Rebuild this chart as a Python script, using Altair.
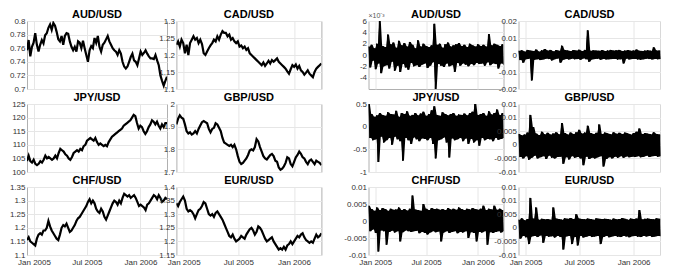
import altair as alt
import numpy as np
import pandas as pd

START = (2004, 12, 8)
END = (2006, 4, 2)

# ---- price levels ----
aud_level = [0.757,0.772,0.748,0.762,0.768,0.782,0.765,0.755,0.765,0.772,0.767,0.779,0.782,0.790,0.795,0.787,0.797,0.793,0.784,0.773,0.770,0.778,0.765,0.778,0.782,0.781,0.770,0.762,0.757,0.762,0.755,0.770,0.768,0.760,0.771,0.760,0.750,0.740,0.757,0.763,0.760,0.775,0.768,0.778,0.762,0.755,0.765,0.768,0.773,0.778,0.770,0.765,0.760,0.757,0.755,0.750,0.757,0.752,0.740,0.733,0.730,0.733,0.740,0.747,0.752,0.742,0.740,0.735,0.745,0.755,0.750,0.753,0.757,0.752,0.748,0.745,0.745,0.744,0.750,0.742,0.735,0.720,0.712,0.705,0.712,0.718]
cad_level = [1.230,1.240,1.225,1.245,1.235,1.205,1.230,1.200,1.235,1.245,1.255,1.245,1.250,1.235,1.245,1.232,1.205,1.200,1.210,1.220,1.228,1.235,1.245,1.240,1.255,1.245,1.260,1.270,1.265,1.265,1.255,1.260,1.245,1.250,1.240,1.235,1.240,1.225,1.228,1.220,1.225,1.215,1.220,1.205,1.200,1.195,1.190,1.185,1.180,1.175,1.170,1.178,1.168,1.175,1.183,1.175,1.185,1.180,1.185,1.190,1.180,1.175,1.170,1.165,1.160,1.152,1.145,1.158,1.170,1.165,1.172,1.160,1.168,1.155,1.150,1.142,1.148,1.155,1.145,1.140,1.135,1.150,1.160,1.165,1.170,1.175]
jpy_level = [104,106,104,103.5,104.5,103,102.5,103,104,103.5,104.5,106,105,105.5,105,104.5,105,106,105,107,108.5,108,107.5,106.5,106,105,104.5,105.5,107,107.5,108,107.5,108.5,108,109.5,110,111.5,112,112.5,112,111.5,112.5,111,110,110.5,110,109.5,110,109.5,111,112,113,113.5,114,114.5,115,115.5,116,117,117.5,118,118.5,119,120,121,120.5,118,116,117,116.5,115,114,115,116.5,117.5,119,118.5,117.5,118.5,117,116,117.5,116.5,118,118]
gbp_level = [1.910,1.935,1.950,1.940,1.935,1.910,1.880,1.870,1.875,1.865,1.870,1.880,1.870,1.890,1.905,1.920,1.925,1.920,1.915,1.890,1.875,1.890,1.895,1.915,1.910,1.895,1.880,1.850,1.830,1.825,1.820,1.815,1.820,1.810,1.820,1.800,1.770,1.745,1.735,1.740,1.750,1.760,1.775,1.795,1.800,1.795,1.810,1.845,1.835,1.810,1.790,1.770,1.760,1.755,1.765,1.775,1.780,1.770,1.750,1.745,1.720,1.710,1.715,1.725,1.740,1.765,1.760,1.735,1.725,1.745,1.765,1.775,1.790,1.780,1.765,1.760,1.745,1.735,1.750,1.755,1.745,1.735,1.750,1.745,1.740,1.730]
chf_level = [1.155,1.165,1.150,1.145,1.140,1.135,1.160,1.175,1.180,1.175,1.190,1.190,1.200,1.225,1.205,1.190,1.180,1.170,1.160,1.155,1.175,1.200,1.210,1.205,1.215,1.200,1.185,1.190,1.200,1.210,1.225,1.235,1.240,1.250,1.260,1.270,1.280,1.295,1.305,1.290,1.300,1.290,1.270,1.260,1.255,1.270,1.260,1.240,1.230,1.245,1.260,1.275,1.290,1.300,1.295,1.285,1.300,1.290,1.310,1.325,1.320,1.315,1.320,1.310,1.315,1.320,1.310,1.295,1.280,1.285,1.280,1.275,1.265,1.285,1.290,1.300,1.310,1.320,1.315,1.305,1.320,1.310,1.295,1.300,1.310,1.305]
eur_level = [1.340,1.330,1.345,1.355,1.365,1.350,1.320,1.310,1.315,1.310,1.300,1.285,1.300,1.315,1.320,1.330,1.345,1.340,1.320,1.300,1.295,1.300,1.290,1.305,1.310,1.300,1.290,1.280,1.265,1.250,1.235,1.220,1.215,1.225,1.210,1.200,1.205,1.210,1.220,1.215,1.210,1.225,1.235,1.245,1.250,1.240,1.225,1.235,1.255,1.250,1.240,1.225,1.210,1.200,1.205,1.210,1.215,1.200,1.190,1.180,1.170,1.175,1.170,1.180,1.170,1.185,1.190,1.200,1.190,1.200,1.210,1.220,1.215,1.225,1.230,1.215,1.205,1.200,1.195,1.200,1.195,1.210,1.225,1.215,1.220,1.230]

# ---- returns (in units of 1e-3) ----
aud_ret = [1.5,-2.2,1.8,-1.0,1.2,-2.5,2.0,-1.5,6.1,-3.2, 1.6,-2.0,1.4,-1.8,3.6,-2.4,1.9,-1.2,2.2,-2.8, 1.3,-1.9,2.5,-3.0,1.7,-1.6,2.1,-2.2,1.5,-2.6, 2.3,-1.4,1.8,-2.0,1.2,-1.8,2.6,-2.1,1.5,-1.7, 2.0,-1.5,1.6,-2.3,1.4,-1.9,1.7,-1.3,5.5,-6.0, 1.8,-1.6,2.0,-1.9,1.3,-2.1,1.9,-1.5,2.2,-2.0, 1.5,-1.8,1.7,-3.0,1.9,-1.4,2.1,-1.9,1.6,-1.5, 1.8,-1.7,1.4,-2.0,2.0,-1.6,1.7,-1.8,1.5,-1.4, 1.9,-1.6,1.6,-1.5,1.8,-1.9,1.5,-1.3,3.7,-1.8, 1.7,-1.5,2.0,-1.6,1.8,-2.4,1.6,-1.5,1.9,-1.7]
cad_ret = [2.5,-3.0,2.8,-4.5,2.0,-2.5,3.0,-2.2,2.6,-15.0, 2.4,-2.8,3.2,-2.5,2.0,-3.0,2.8,-2.6,3.5,-2.2, 2.6,-2.4,3.0,-3.2,2.2,-2.5,2.9,-2.1,2.5,-4.5, 5.5,-2.8,3.0,-2.4,2.7,-2.6,2.3,-2.2,2.9,-2.5, 2.6,-2.4,3.1,-2.8,2.4,-2.0,3.0,-2.5,14.5,-4.0, 2.5,-2.6,2.8,-2.4,2.6,-2.2,2.5,-2.8,2.9,-2.3, 2.4,-2.6,2.7,-2.5,3.0,-2.4,2.6,-2.3,2.8,-2.7, 3.0,-2.5,2.4,-5.0,2.6,-2.2,2.9,-2.6,2.5,-2.4, 2.7,-2.3,3.2,-2.6,2.5,-2.8,2.4,-2.5,2.6,-2.2, 2.8,-2.4,2.5,-2.6,4.5,-2.3,2.7,-2.5,2.6,-2.4]
jpy_ret = [500,-250,280,-300,220,-280,250,-780,300,-220, 260,-350,240,-300,320,-250,280,-400,270,-220, 350,-280,220,-320,300,-750,280,-250,340,-300, 240,-380,260,-240,300,-280,250,-320,290,-260, 330,-270,240,-300,280,-250,360,-380,450,-700, 260,-300,240,-280,320,-240,280,-350,250,-680, 280,-260,300,-300,240,-280,270,-250,260,-320, 290,-260,250,-380,300,-270,330,-350,520,-300, 260,-420,280,-250,300,-300,240,-270,340,-280, 270,-320,300,-250,380,-290,260,-270,300,-250]
gbp_ret = [4.0,-4.5,3.5,-5.0,3.8,-4.2,4.5,-5.5,11.0,-4.8, 6.5,-4.0,4.2,-5.0,3.6,-4.6,4.8,-4.2,3.9,-5.2, 4.4,-4.0,3.8,-4.8,4.2,-5.0,4.6,-4.5,3.9,-4.4, 8.0,-7.0,4.3,-4.6,3.8,-5.4,4.5,-4.2,4.0,-4.8, 4.6,-4.5,5.5,-5.0,4.2,-7.5,4.5,-4.4,7.0,-5.2, 4.3,-4.8,4.0,-5.0,4.4,-4.6,7.5,-4.2,4.0,-8.0, 4.5,-5.2,4.2,-4.6,3.9,-5.0,4.6,-4.4,4.1,-4.8, 4.4,-4.2,4.0,-4.8,4.5,-4.3,4.2,-4.6,3.8,-4.4, 4.3,-4.5,4.8,-4.2,6.0,-4.6,4.0,-4.4,4.3,-4.0, 4.1,-4.5,3.9,-4.2,4.6,-4.1,4.0,-4.4,3.8,-4.2]
chf_ret = [4.5,-3.0,3.5,-2.5,3.0,-3.5,4.0,-9.0,3.2,-2.8, 3.8,-3.0,3.5,-7.0,3.0,-3.2,3.6,-2.9,3.3,-3.4, 3.4,-3.0,4.0,-6.0,3.2,-3.3,3.5,-2.8,3.1,-3.0, 3.6,-3.2,7.5,-3.0,3.4,-2.9,3.2,-3.6,3.0,-3.2, 5.0,-3.5,3.6,-4.0,3.2,-3.4,3.8,-3.0,3.5,-3.3, 3.6,-3.1,3.3,-6.0,3.5,-3.4,3.2,-3.0,3.8,-3.5, 3.4,-3.2,3.6,-3.0,3.3,-3.6,4.0,-3.2,3.5,-3.4, 3.2,-3.0,3.6,-5.0,3.4,-3.3,3.8,-3.5,3.5,-6.0, 3.3,-3.2,3.6,-3.4,4.5,-3.0,3.2,-7.0,3.6,-3.3, 3.4,-3.5,4.5,-3.2,3.3,-3.0,3.6,-3.4,3.2,-3.0]
eur_ret = [3.0,-4.0,3.5,-3.0,2.8,-3.5,3.2,-6.0,11.0,-3.2, 3.4,-3.0,7.5,-3.4,3.0,-2.8,3.3,-5.5,3.1,-3.0, 3.2,-3.3,3.0,-3.1,7.5,-3.6,3.4,-3.0,3.2,-3.4, 3.0,-8.0,3.5,-3.2,3.3,-3.0,3.6,-6.0,3.2,-3.4, 5.0,-6.5,3.4,-3.0,3.2,-3.6,3.1,-3.3,3.4,-3.0, 3.2,-3.4,3.0,-3.2,3.5,-3.0,3.3,-6.0,3.2,-3.4, 3.3,-3.0,3.2,-3.5,3.0,-3.2,3.4,-3.0,3.1,-3.3, 3.2,-3.4,3.6,-3.0,3.3,-3.2,3.0,-3.5,3.4,-3.1, 3.2,-3.0,3.4,-3.3,6.5,-3.4,3.1,-3.0,3.3,-3.2, 3.4,-3.0,3.2,-3.4,3.1,-3.2,3.5,-3.0,3.3,-3.1]

FONT = "Liberation Sans"
X_TICKS = [alt.DateTime(year=2005, month=1, date=1),
           alt.DateTime(year=2005, month=7, date=1),
           alt.DateTime(year=2006, month=1, date=1)]
X_DOMAIN = [alt.DateTime(year=START[0], month=START[1], date=START[2]),
            alt.DateTime(year=END[0], month=END[1], date=END[2])]
MINUS = "replace(datum.label, '\u2212', '-')"


def panel(values, scale, title, domain, ticks, bottom, width, height=68,
          lw=2.2, label_expr=MINUS, exponent=None, returns=False):
    dates = pd.date_range(pd.Timestamp(*START), pd.Timestamp(*END), periods=len(values))
    v = pd.Series([val * scale for val in values])
    prev = v.shift(1).fillna(v)
    df = pd.DataFrame({"date": dates, "v": v,
                       "lo": np.minimum(v, prev), "hi": np.maximum(v, prev)})
    x = alt.X("date:T", title=None,
              scale=alt.Scale(domain=X_DOMAIN),
              axis=alt.Axis(values=X_TICKS, format="%b %Y", labels=bottom,
                            labelFontSize=8, labelPadding=3, grid=True,
                            minExtent=0))
    yscale = alt.Scale(domain=domain, nice=False, zero=False)
    yaxis = alt.Axis(values=ticks, format="~g", labelExpr=label_expr,
                     labelFontSize=8, labelPadding=2, grid=True, minExtent=0)
    base = alt.Chart(df)
    layers = []
    if returns:
        layers.append(base.mark_area(color="black", clip=True, opacity=1).encode(
            x=x, y=alt.Y("lo:Q", title=None, scale=yscale, axis=yaxis), y2="hi:Q"))
    layers.append(base.mark_line(color="black", strokeWidth=lw, clip=True).encode(
        x=x, y=alt.Y("v:Q", title=None, scale=yscale, axis=yaxis)))
    offset = -3
    if exponent:
        ex = alt.Chart(pd.DataFrame({"t": [exponent]})).mark_text(
            fontSize=7, font=FONT, color="#555", align="left", baseline="bottom"
        ).encode(x=alt.value(0), y=alt.value(-2), text="t:N")
        layers.append(ex)
        offset = -8
    return alt.layer(*layers).properties(
        width=width, height=height,
        title=alt.TitleParams(title, fontSize=11, fontWeight="bold", font=FONT,
                              offset=offset, color="black", frame="group"))


W = [140, 145, 135, 142]
RL = 1.0
col1 = alt.vconcat(
    panel(aud_level, 1, "AUD/USD", [0.7, 0.8], [0.7, 0.72, 0.74, 0.76, 0.78, 0.8], False, W[0]),
    panel(jpy_level, 1, "JPY/USD", [100, 125], [100, 105, 110, 115, 120, 125], False, W[0]),
    panel(chf_level, 1, "CHF/USD", [1.1, 1.35], [1.1, 1.15, 1.2, 1.25, 1.3, 1.35], True, W[0]),
    spacing=15, bounds="flush")
col2 = alt.vconcat(
    panel(cad_level, 1, "CAD/USD", [1.1, 1.3], [1.1, 1.15, 1.2, 1.25, 1.3], False, W[1]),
    panel(gbp_level, 1, "GBP/USD", [1.7, 2.0], [1.7, 1.8, 1.9, 2.0], False, W[1]),
    panel(eur_level, 1, "EUR/USD", [1.15, 1.4], [1.15, 1.2, 1.25, 1.3, 1.35, 1.4], True, W[1]),
    spacing=15, bounds="flush")
col3 = alt.vconcat(
    panel(aud_ret, 0.001, "AUD/USD", [-0.006, 0.006], [-0.004, -0.002, 0, 0.002, 0.004, 0.006], False, W[2],
          lw=RL, label_expr="replace(format(datum.value*1000, '~g'), '\u2212', '-')",
          exponent="\u00d710\u207b\u00b3", returns=True),
    panel(jpy_ret, 0.001, "JPY/USD", [-1, 0.5], [-1, -0.5, 0, 0.5], False, W[2], lw=RL, returns=True),
    panel(chf_ret, 0.001, "CHF/USD", [-0.01, 0.01], [-0.01, -0.005, 0, 0.005, 0.01], True, W[2], lw=RL, returns=True),
    spacing=15, bounds="flush")
col4 = alt.vconcat(
    panel(cad_ret, 0.001, "CAD/USD", [-0.02, 0.02], [-0.02, -0.01, 0, 0.01, 0.02], False, W[3], lw=RL, returns=True),
    panel(gbp_ret, 0.001, "GBP/USD", [-0.01, 0.015], [-0.01, -0.005, 0, 0.005, 0.01, 0.015], False, W[3], lw=RL, returns=True),
    panel(eur_ret, 0.001, "EUR/USD", [-0.01, 0.015], [-0.01, -0.005, 0, 0.005, 0.01, 0.015], True, W[3], lw=RL, returns=True),
    spacing=15, bounds="flush")

left = alt.hconcat(col1, col2, spacing=-10.6)
right = alt.hconcat(col3, col4, spacing=-12)

chart = alt.hconcat(left, right, spacing=20.5).properties(
    padding={"left": 0, "top": 0, "right": 0, "bottom": 0}
).configure_view(
    stroke="#b0b0b0", strokeWidth=1
).configure_axis(
    domain=False, ticks=False, gridColor="#e6e6e6", gridWidth=1,
    labelFont=FONT, labelColor="#333333"
).configure_title(anchor="middle")

chart.save("out.html", embed_options={"renderer": "svg", "actions": False})
